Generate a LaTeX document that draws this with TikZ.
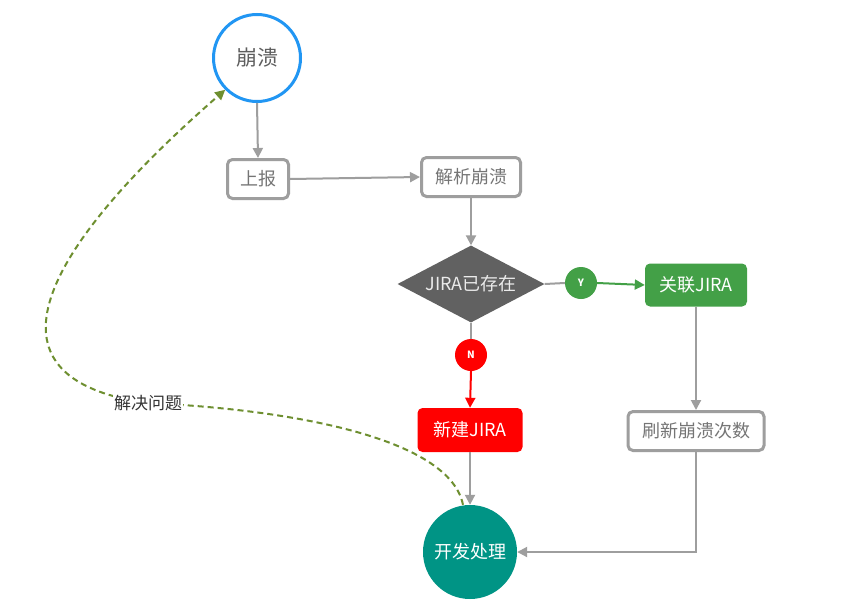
\documentclass[tikz,border=0pt]{standalone}
\usepackage{fontspec}
\newfontfamily\cjk{Noto Sans CJK SC}
\usetikzlibrary{arrows.meta,shapes.geometric}
\definecolor{cgray}{HTML}{9E9E9E}
\definecolor{ctext}{HTML}{757575}
\definecolor{cblue}{HTML}{2196F3}
\definecolor{cgreen}{HTML}{43A047}
\definecolor{cred}{HTML}{FF0000}
\definecolor{cteal}{HTML}{009485}
\definecolor{cdia}{HTML}{616161}
\definecolor{colive}{HTML}{6E8F30}
\definecolor{clabel}{HTML}{333333}
\tikzset{
  graybox/.style={draw=cgray, line width=3pt, fill=white, rounded corners=5pt, text=ctext, font=\cjk\fontsize{18}{18}\selectfont, inner sep=0pt, minimum height=39pt},
  fillbox/.style={rounded corners=5pt, text=white, font=\cjk\fontsize{18}{18}\selectfont, inner sep=0pt},
  tag/.style={circle, inner sep=0pt, minimum size=32pt, text=white, font=\cjk\bfseries\fontsize{10}{10}\selectfont},
  conn/.style={draw=cgray, line width=2pt},
  arr/.style={-{Triangle[length=10pt,width=10pt]}},
}
\begin{document}
\begin{tikzpicture}[x=1pt,y=-1pt]
\useasboundingbox (0,0) rectangle (850,610);
\fill[white] (0,0) rectangle (850,610);

\node[circle, draw=cblue, line width=3pt, fill=white, minimum size=87pt, inner sep=0pt, text=ctext!80!black, font=\cjk\fontsize{21}{21}\selectfont] (crash) at (257,58) {崩溃};
\node[graybox, minimum width=61pt] (report) at (258,179) {上报};
\node[graybox, minimum width=99pt] (parse) at (471,177) {解析崩溃};
\node[diamond, aspect=1.9, fill=cdia, minimum width=147pt, minimum height=77pt, inner sep=0pt, text=white!92!black, font=\cjk\fontsize{18}{18}\selectfont] (exists) at (471,284) {JIRA已存在};
\node[tag, fill=cgreen] (yes) at (581,283) {Y};
\node[fillbox, fill=cgreen, minimum width=102pt, minimum height=43pt] (link) at (696,285) {关联JIRA};
\node[graybox, minimum width=136pt] (refresh) at (696,431) {刷新崩溃次数};
\node[tag, fill=cred] (no) at (471,355) {N};
\node[fillbox, fill=cred, minimum width=105pt, minimum height=44pt] (newj) at (470,430) {新建JIRA};
\node[circle, fill=cteal, minimum size=94pt, inner sep=0pt, text=white, font=\cjk\fontsize{18}{18}\selectfont] (dev) at (470,552) {开发处理};

\draw[conn, arr] (crash.south) -- (report.north);
\draw[conn, arr] (report.east) -- (parse.west);
\draw[conn, arr] (parse.south) -- (exists.north);
\draw[conn] (exists.east) -- (yes.west);
\draw[draw=cgreen, line width=2pt, arr] (yes.east) -- (link.west);
\draw[conn, arr] (link.south) -- (refresh.north);
\draw[conn, arr] (refresh.south) |- (dev.east);
\draw[conn] (exists.south) -- (no.north);
\draw[draw=cred, line width=2pt, arr] (no.south) -- (newj.north);
\draw[conn, arr] (newj.south) -- (dev.north);

\coordinate (lbl) at (148,403);
\draw[draw=colive, line width=2pt, dash pattern=on 6pt off 4pt, -{Triangle[length=10pt,width=10pt]}]
  (dev.north) ++(-7,0) .. controls (450,440) and (300,410) .. (lbl)
  .. controls (-20,380) and (30,260) .. (crash.225);
\node[fill=white, inner sep=1pt, text=clabel, font=\cjk\fontsize{17}{17}\selectfont] (lbltext) at (lbl) {解决问题};
\end{tikzpicture}
\end{document}
